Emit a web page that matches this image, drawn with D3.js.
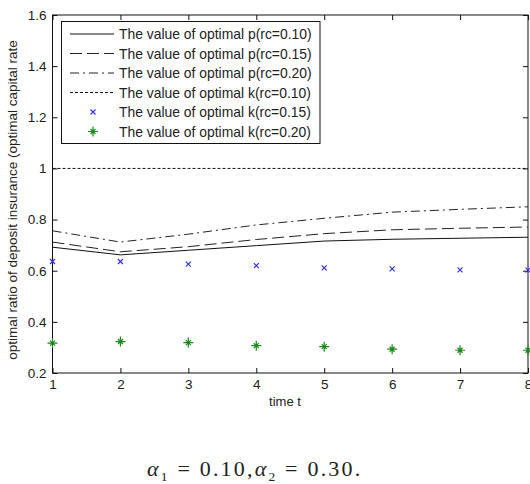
<!DOCTYPE html>
<html>
<head>
<meta charset="utf-8">
<script src="https://cdn.jsdelivr.net/npm/d3@7"></script>
<style>
  body { margin: 0; background: #fff; }
  svg text { font-family: "Liberation Sans", Arial, sans-serif; fill: #222; }
</style>
</head>
<body>
<svg id="chart" width="530" height="484"></svg>
<script>
// time steps
const times = [1, 2, 3, 4, 5, 6, 7, 8]
// optimal p for each rc
const pRc10 = [0.692, 0.662, 0.680, 0.698, 0.716, 0.723, 0.727, 0.731]
const pRc15 = [0.712, 0.674, 0.694, 0.722, 0.745, 0.760, 0.766, 0.771]
const pRc20 = [0.756, 0.712, 0.743, 0.779, 0.805, 0.829, 0.840, 0.850]
// optimal k for each rc
const kRc10 = [1, 1, 1, 1, 1, 1, 1, 1]
const kRc15 = [0.636, 0.636, 0.626, 0.620, 0.611, 0.607, 0.603, 0.602]
const kRc20 = [0.317, 0.323, 0.319, 0.307, 0.303, 0.293, 0.289, 0.289]

const xTicks = [1, 2, 3, 4, 5, 6, 7, 8]
const yTicks = [0.2, 0.4, 0.6, 0.8, 1, 1.2, 1.4, 1.6]

const legendLabels = [
  'The value of optimal p(rc=0.10)',
  'The value of optimal p(rc=0.15)',
  'The value of optimal p(rc=0.20)',
  'The value of optimal k(rc=0.10)',
  'The value of optimal k(rc=0.15)',
  'The value of optimal k(rc=0.20)'
]

const svg = d3.select('#chart')
const plot = { left: 52.5, right: 528, top: 15, bottom: 373 }

const x = d3.scaleLinear().domain([1, 8]).range([plot.left, plot.right])
const y = d3.scaleLinear().domain([0.2, 1.6]).range([plot.bottom, plot.top])

// frame
svg.append('rect')
  .attr('x', plot.left).attr('y', plot.top)
  .attr('width', plot.right - plot.left).attr('height', plot.bottom - plot.top)
  .attr('fill', 'none').attr('stroke', '#111').attr('stroke-width', 1)

// axes with inward ticks
const fmt = d => (d === 1 ? '1' : d3.format('.1f')(d))
svg.append('g').attr('class', 'xaxis')
  .attr('transform', 'translate(0,' + plot.bottom + ')')
  .call(d3.axisBottom(x).tickValues(xTicks).tickSizeInner(-5).tickSizeOuter(0).tickPadding(6).tickFormat(d3.format('d')))
svg.append('g')
  .attr('transform', 'translate(0,' + plot.top + ')')
  .call(d3.axisTop(x).tickValues(xTicks).tickSizeInner(-5).tickSizeOuter(0).tickFormat(''))
svg.append('g').attr('class', 'yaxis')
  .attr('transform', 'translate(' + plot.left + ',0)')
  .call(d3.axisLeft(y).tickValues(yTicks).tickSizeInner(-5).tickSizeOuter(0).tickPadding(6).tickFormat(fmt))
svg.append('g')
  .attr('transform', 'translate(' + plot.right + ',0)')
  .call(d3.axisRight(y).tickValues(yTicks).tickSizeInner(-5).tickSizeOuter(0).tickFormat(''))

svg.selectAll('.domain').remove()
svg.selectAll('.tick line').attr('stroke', '#111')
svg.selectAll('.tick text').attr('font-size', 13.5).attr('fill', '#222')
  .attr('font-family', '"Liberation Sans", Arial, sans-serif')

// axis titles
svg.append('text')
  .attr('x', 285).attr('y', 406)
  .attr('text-anchor', 'middle').attr('font-size', 13)
  .text('time t')
svg.append('text')
  .attr('transform', 'translate(17,' + 200 + ') rotate(-90)')
  .attr('text-anchor', 'middle').attr('font-size', 13.5)
  .text('optimal ratio of deposit insurance (optimal capital rate')

const line = d3.line().x((d, i) => x(times[i])).y(d => y(d))

const lineSeries = [
  { values: pRc10, dash: null, color: '#111' },
  { values: pRc15, dash: '12,5', color: '#222' },
  { values: pRc20, dash: '9,4,2,4', color: '#222' },
  { values: kRc10, dash: '3,2', color: '#111' }
]

svg.selectAll('.series')
  .data(lineSeries)
  .enter().append('path')
  .attr('class', 'series')
  .attr('d', d => line(d.values))
  .attr('fill', 'none')
  .attr('stroke', d => d.color)
  .attr('stroke-width', 1)
  .attr('stroke-dasharray', d => d.dash)

// x markers
function xMark (g, cx, cy) {
  g.append('path')
    .attr('d', `M${cx - 2.5},${cy - 2.5}L${cx + 2.5},${cy + 2.5}M${cx - 2.5},${cy + 2.5}L${cx + 2.5},${cy - 2.5}`)
    .attr('stroke', '#2a2af0').attr('stroke-width', 1.1).attr('fill', 'none')
}
function starMark (g, cx, cy) {
  g.append('path')
    .attr('d', `M${cx - 5},${cy}L${cx + 5},${cy}M${cx},${cy - 5}L${cx},${cy + 5}M${cx - 2.5},${cy - 2.5}L${cx + 2.5},${cy + 2.5}M${cx - 2.5},${cy + 2.5}L${cx + 2.5},${cy - 2.5}`)
    .attr('stroke', '#1a8a1a').attr('stroke-width', 1.2).attr('fill', 'none')
}

const markG = svg.append('g')
kRc15.forEach((v, i) => xMark(markG, x(times[i]), y(v)))
kRc20.forEach((v, i) => starMark(markG, x(times[i]), y(v)))

// legend
const lg = svg.append('g')
lg.append('rect')
  .attr('x', 61.5).attr('y', 21.5).attr('width', 258.5).attr('height', 122)
  .attr('fill', '#fff').attr('stroke', '#111').attr('stroke-width', 1)

legendLabels.forEach((label, i) => {
  const ly = 34 + i * 19.5
  if (i < 4) {
    lg.append('line')
      .attr('x1', 70).attr('x2', 114).attr('y1', ly).attr('y2', ly)
      .attr('stroke', lineSeries[i].color).attr('stroke-width', 1)
      .attr('stroke-dasharray', lineSeries[i].dash)
  } else if (i === 4) {
    xMark(lg, 93, ly)
  } else {
    starMark(lg, 93, ly)
  }
  lg.append('text')
    .attr('x', 119).attr('y', ly + 5)
    .attr('font-size', 13.9)
    .text(label)
})

// caption
const cap = svg.append('text')
  .attr('x', 147).attr('y', 476)
  .attr('font-size', 22)
  .attr('letter-spacing', 2.2)
  .style('font-family', '"Liberation Serif", "Times New Roman", serif')
cap.append('tspan').attr('font-style', 'italic').text('α')
cap.append('tspan').attr('font-size', 13.5).attr('dy', 5).text('1')
cap.append('tspan').attr('dy', -5).text(' = 0.10,')
cap.append('tspan').attr('font-style', 'italic').text('α')
cap.append('tspan').attr('font-size', 13.5).attr('dy', 5).text('2')
cap.append('tspan').attr('dy', -5).text(' = 0.30.')
</script>
</body>
</html>
